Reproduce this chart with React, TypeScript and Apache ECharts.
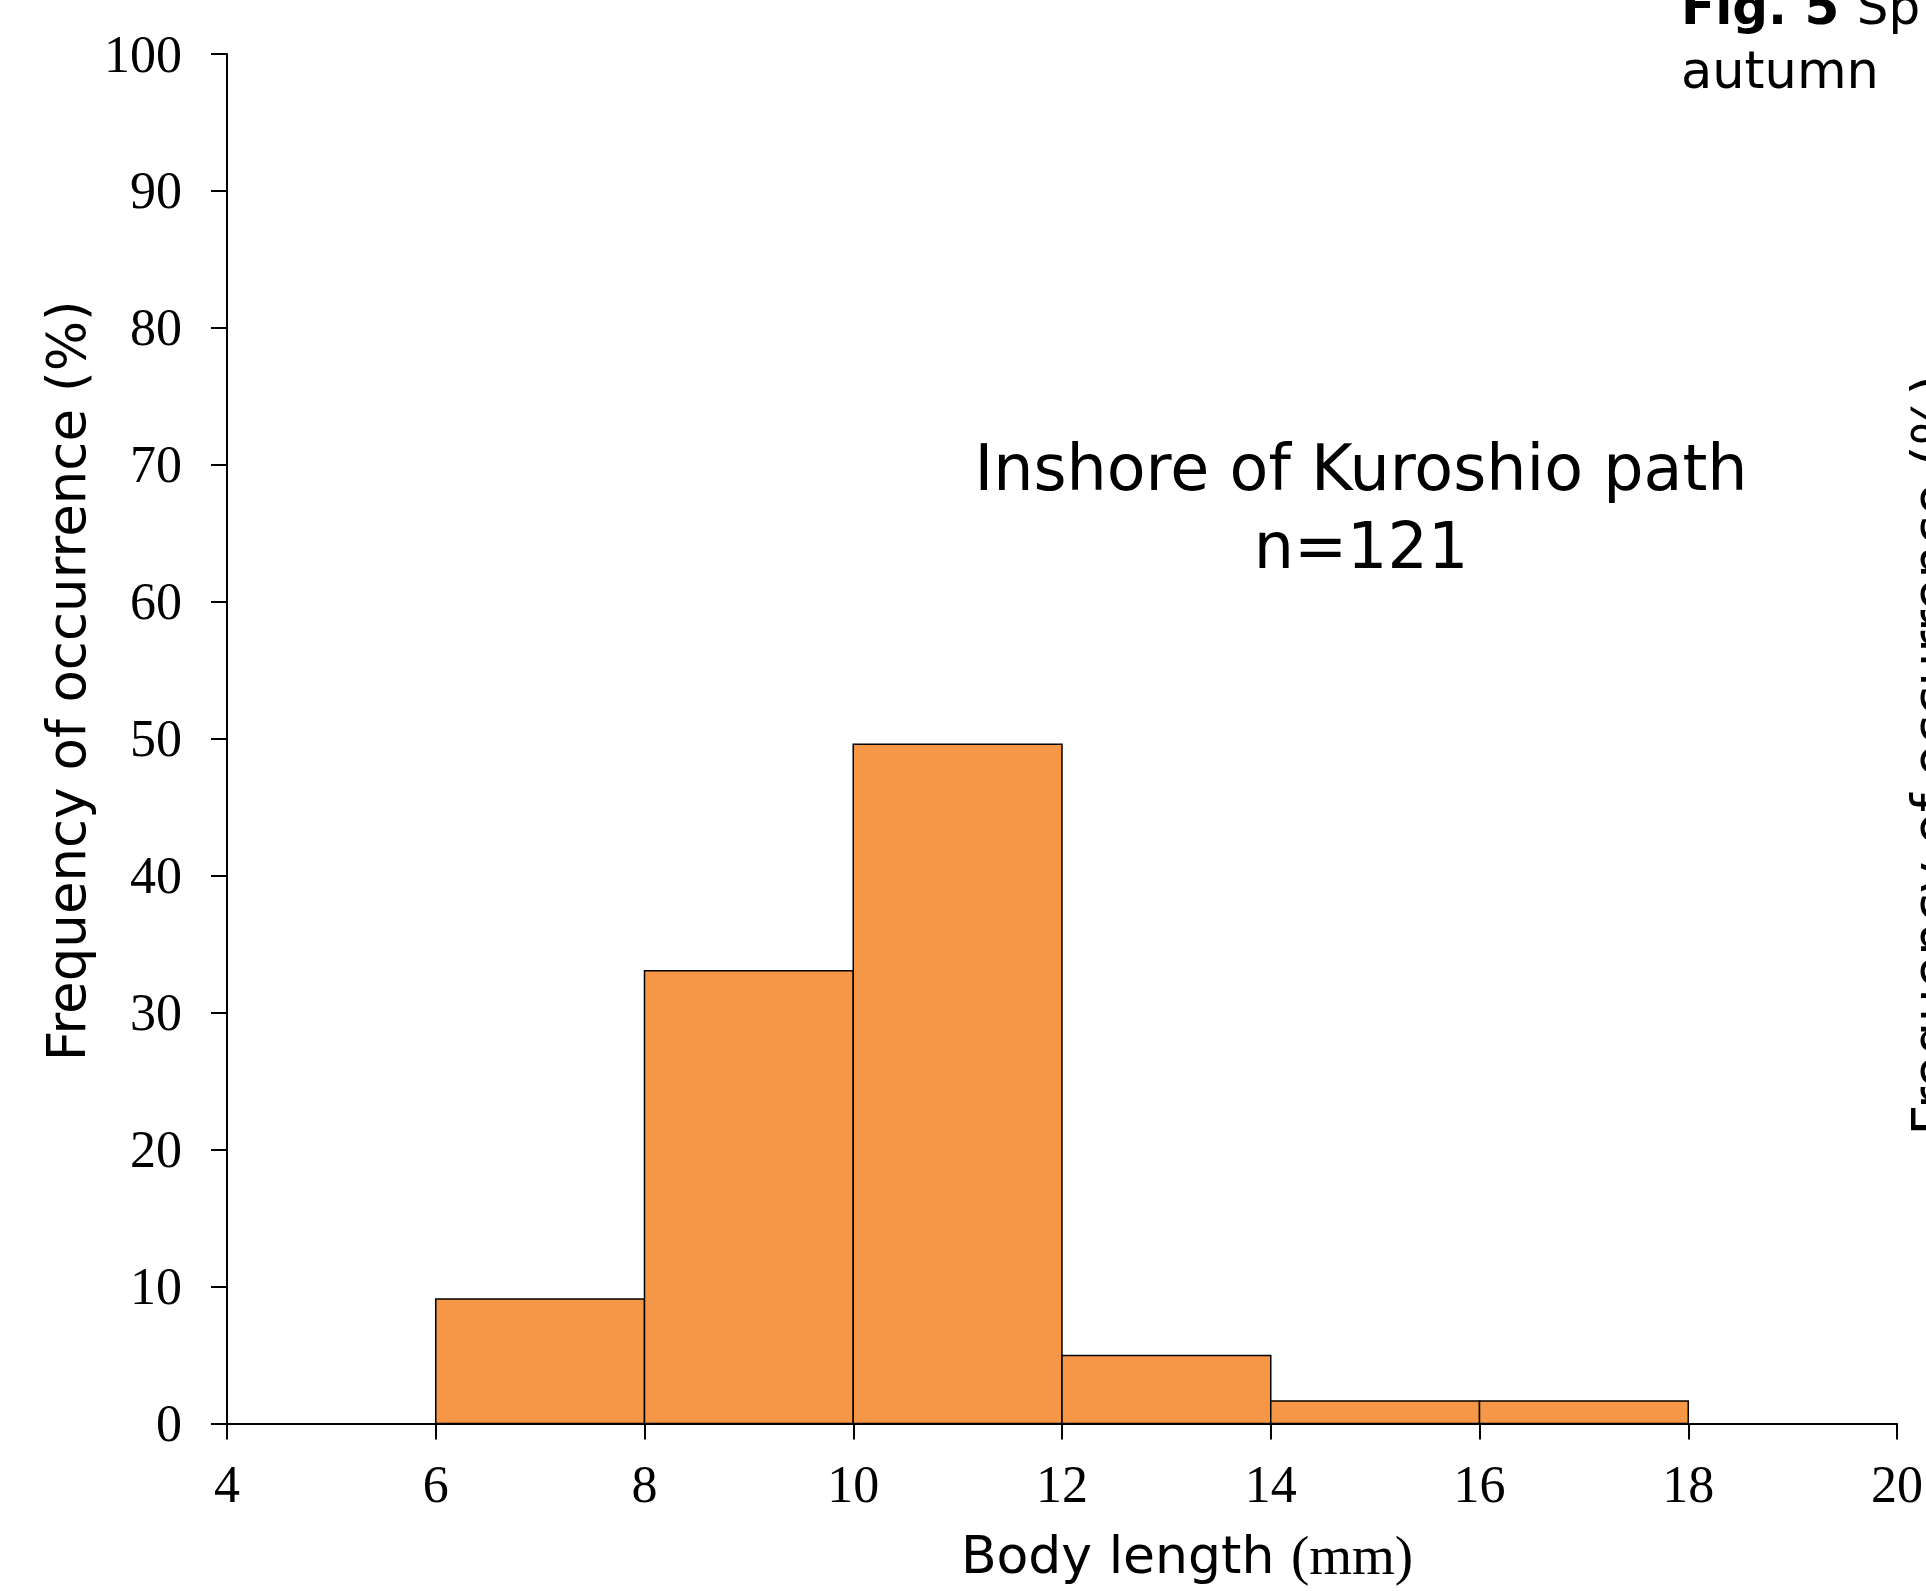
import React, { useEffect, useRef } from "react";
import * as echarts from "echarts";

// Histogram bins (body length, mm) and frequency of occurrence (%)
const binStart = [6, 8, 10, 12, 14, 16];
const binEnd = [8, 10, 12, 14, 16, 18];
const frequency = [9.09, 33.06, 49.59, 4.96, 1.65, 1.65];

const xTicks = { min: 4, max: 20, interval: 2 };
const yTicks = { min: 0, max: 100, interval: 10 };

const yTitle = "Frequency of occurrence (%)";
const xTitleMain = "Body length";
const xTitleUnit = "(mm)";
const panelTitle = "Inshore of Kuroshio path";
const panelCount = "n=121";
const captionBold = "Fig. 5";
const captionRest = "Sp";
const captionLine2 = "autumn";
const nextPanelTitle = "Frequency of occurrence (%)";

const SANS = "'DejaVu Sans', Verdana, sans-serif";
const SERIF = "'Liberation Serif', 'Times New Roman', serif";

export default function App() {
  const ref = useRef<HTMLDivElement>(null);
  useEffect(() => {
    if (!ref.current) return;
    const chart = echarts.init(ref.current, null, { renderer: "svg" });
    const data = binStart.map((s, i) => [s, binEnd[i], frequency[i]]);
    chart.setOption({
      animation: false,
      backgroundColor: "#ffffff",
      grid: { left: 227, top: 54, right: 19, bottom: 167.5, containLabel: false },
      xAxis: {
        type: "value",
        min: xTicks.min,
        max: xTicks.max,
        interval: xTicks.interval,
        splitLine: { show: false },
        axisLine: { show: true, onZero: false, lineStyle: { color: "#000", width: 2 } },
        axisTick: { show: true, length: 16, lineStyle: { color: "#000", width: 2 } },
        axisLabel: { color: "#000", fontFamily: SERIF, fontSize: 52, margin: 35 },
        name: `{a|${xTitleMain}\u00a0}{b|${xTitleUnit}}`,
        nameLocation: "middle",
        nameGap: 104,
        nameTextStyle: {
          padding: [0, 0, 0, 250],
          rich: {
            a: { fontFamily: SANS, fontSize: 52, color: "#000" },
            b: { fontFamily: SERIF, fontSize: 55, color: "#000" },
          },
        },
      },
      yAxis: {
        type: "value",
        min: yTicks.min,
        max: yTicks.max,
        interval: yTicks.interval,
        splitLine: { show: false },
        axisLine: { show: true, lineStyle: { color: "#000", width: 2 } },
        axisTick: { show: true, length: 16, lineStyle: { color: "#000", width: 2 } },
        axisLabel: { color: "#000", fontFamily: SERIF, fontSize: 52, margin: 45 },
        name: yTitle,
        nameLocation: "middle",
        nameRotate: 90,
        nameGap: 123,
        nameTextStyle: { fontFamily: SANS, fontSize: 53, color: "#000", padding: [0, 0, 0, 116] },
      },
      series: [
        {
          type: "custom",
          data,
          encode: { x: [0, 1], y: 2 },
          renderItem: (params: any, api: any) => {
            const p0 = api.coord([api.value(0), api.value(2)]);
            const p1 = api.coord([api.value(1), 0]);
            return {
              type: "rect",
              shape: { x: p0[0], y: p0[1], width: p1[0] - p0[0], height: p1[1] - p0[1] },
              style: { fill: "#F69647", stroke: "#000", lineWidth: 1.5 },
            };
          },
        },
      ],
      graphic: [
        {
          type: "text",
          x: 1361,
          y: 507,
          style: {
            text: `${panelTitle}\n${panelCount}`,
            font: `63.5px ${SANS}`,
            fill: "#000",
            align: "center",
            verticalAlign: "middle",
            lineHeight: 78,
          },
        },
        {
          type: "text",
          x: 1681,
          y: 7,
          style: {
            text: `{b|${captionBold}\u00a0}{r|${captionRest}}`,
            fill: "#000",
            align: "left",
            verticalAlign: "middle",
            rich: {
              b: { fontFamily: SANS, fontSize: 50, fontWeight: "bold", fill: "#000" },
              r: { fontFamily: SANS, fontSize: 50, fill: "#000" },
            },
          },
        },
        {
          type: "text",
          x: 1681,
          y: 70,
          style: {
            text: captionLine2,
            font: `51px ${SANS}`,
            fill: "#000",
            align: "left",
            verticalAlign: "middle",
          },
        },
        {
          type: "text",
          x: 1931,
          y: 755,
          rotation: Math.PI / 2,
          style: {
            text: nextPanelTitle,
            font: `53px ${SANS}`,
            fill: "#000",
            align: "center",
            verticalAlign: "middle",
          },
        },
      ],
    });
    const onResize = () => chart.resize();
    window.addEventListener("resize", onResize);
    return () => {
      window.removeEventListener("resize", onResize);
      chart.dispose();
    };
  }, []);
  return (
    <div
      ref={ref}
      style={{ position: "fixed", left: 0, top: 0, right: 0, bottom: 0, background: "#fff", overflow: "hidden" }}
    />
  );
}
